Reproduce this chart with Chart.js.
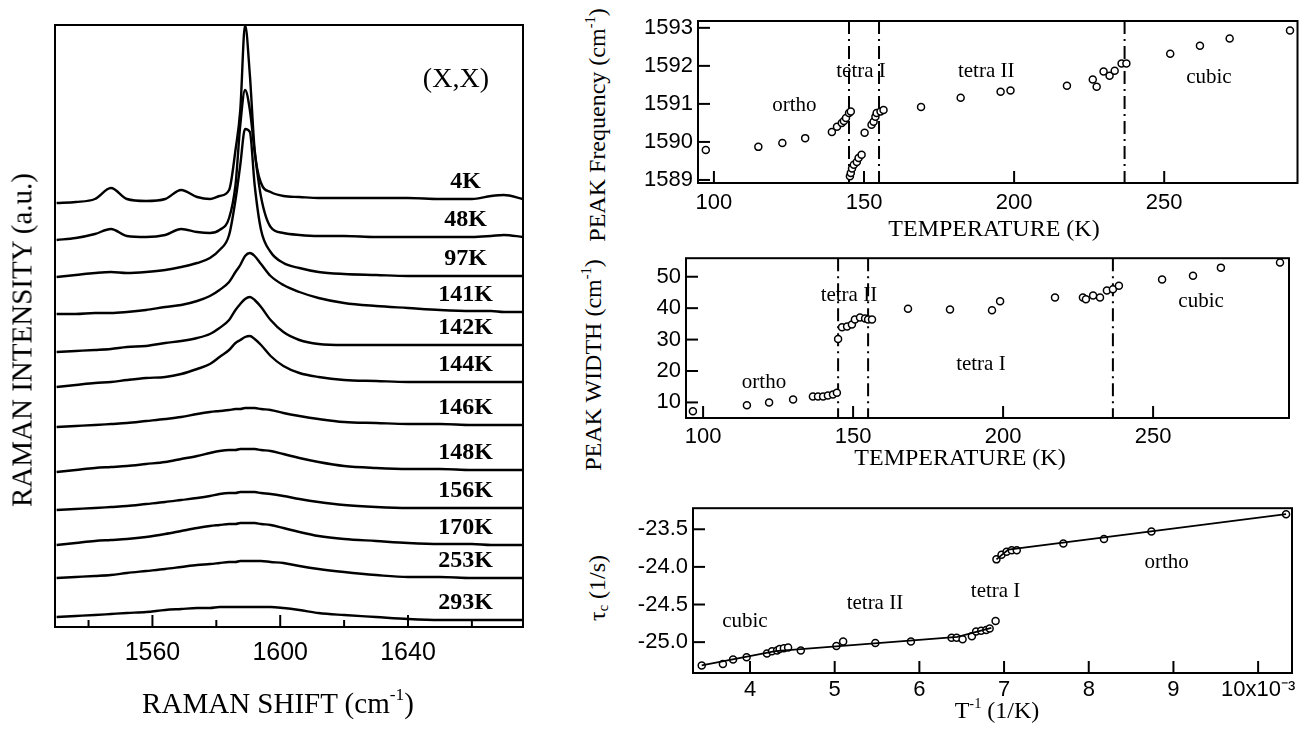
<!DOCTYPE html>
<html>
<head>
<meta charset="utf-8">
<script src="https://cdn.jsdelivr.net/npm/chart.js@4.4.1/dist/chart.umd.min.js"></script>
<style>
    body { margin: 0; background: #fff; }
    #page { position: relative; width: 1303px; height: 737px; overflow: hidden; background: #fff; color: #000; }
    .panel { position: absolute; }
    .t { position: absolute; white-space: nowrap; line-height: 1; transform: translate(-50%, -50%);
         font-family: "Liberation Serif", "Times New Roman", serif; }
    .rot { transform: translate(-50%, -50%) rotate(-90deg); }
    .t sup { font-size: 0.6em; vertical-align: 0.7em; line-height: 0; }
    .t sub { font-size: 0.6em; vertical-align: -0.2em; line-height: 0; }
</style>
</head>
<body>
<div id="page">
    <div class="panel" style="left:0;top:0;width:560px;height:737px;"><canvas id="ramanChart"></canvas></div>
    <div class="panel" style="left:620px;top:0;width:683px;height:215px;"><canvas id="freqChart"></canvas></div>
    <div class="panel" style="left:620px;top:240px;width:683px;height:215px;"><canvas id="widthChart"></canvas></div>
    <div class="panel" style="left:620px;top:490px;width:683px;height:225px;"><canvas id="tauChart"></canvas></div>

    <div class="t rot" style="left:22px;top:340px;font-size:29px;">RAMAN INTENSITY (a.u.)</div>
    <div class="t" style="left:278px;top:703px;font-size:29px;">RAMAN SHIFT (cm<sup>-1</sup>)</div>
    <div class="t rot" style="left:597px;top:125px;font-size:24px;">PEAK Frequency (cm<sup>-1</sup>)</div>
    <div class="t" style="left:994px;top:228px;font-size:24px;">TEMPERATURE (K)</div>
    <div class="t rot" style="left:593px;top:365px;font-size:24px;">PEAK WIDTH (cm<sup>-1</sup>)</div>
    <div class="t" style="left:960px;top:457px;font-size:24px;">TEMPERATURE (K)</div>
    <div class="t rot" style="left:597px;top:588px;font-size:24px;">τ<sub>c</sub> (1/s)</div>
    <div class="t" style="left:997px;top:710px;font-size:24px;">T<sup>-1</sup> (1/K)</div>
</div>

<script>
const FONT_SANS = '"Liberation Sans", Arial, sans-serif';
const FONT_SERIF = '"Liberation Serif", "Times New Roman", serif';

// Raman spectra, shifted up by temperature (a.u.)
const shift = [1530, 1536, 1542, 1547, 1552, 1558, 1564, 1569, 1574, 1578, 1581, 1584, 1586, 1587.5, 1589,
               1590.5, 1592, 1594, 1597, 1601, 1606, 1612, 1620, 1630, 1640, 1650, 1660, 1666, 1670, 1676];
const s4   = [42.4, 42.5, 42.8, 43.9, 42.8, 42.6, 42.8, 43.7, 43.0, 42.8, 43.1, 43.7, 47.7, 51.7, 60.2,
              55.2, 47.7, 44.4, 43.5, 43.1, 43.0, 42.9, 42.9, 42.9, 42.9, 42.8, 42.8, 43.1, 43.2, 42.8];
const s48  = [38.7, 38.9, 39.3, 39.8, 39.1, 39.0, 39.2, 39.8, 39.5, 39.4, 39.7, 40.9, 44.2, 50.2, 53.7,
              51.7, 47.5, 43.0, 40.0, 39.4, 39.2, 39.1, 39.1, 39.0, 39.0, 39.0, 39.0, 39.1, 39.2, 39.0];
const s97  = [35.0, 35.2, 35.4, 35.5, 35.4, 35.5, 35.7, 36.0, 36.4, 36.9, 37.7, 39.2, 42.7, 46.2, 49.8,
              49.5, 44.2, 39.7, 37.5, 36.4, 35.9, 35.5, 35.3, 35.2, 35.1, 35.1, 35.1, 35.1, 35.1, 35.1];
const s141 = [31.3, 31.3, 31.4, 31.4, 31.5, 31.7, 32.0, 32.2, 32.6, 33.1, 33.7, 34.5, 35.5, 36.2, 37.1,
              37.4, 37.1, 36.3, 35.1, 34.2, 33.5, 32.9, 32.4, 32.1, 31.9, 31.7, 31.6, 31.6, 31.5, 31.5];
const s142 = [27.5, 27.6, 27.7, 27.8, 28.0, 28.1, 28.4, 28.6, 28.9, 29.3, 29.9, 30.7, 31.7, 32.3, 32.8,
              33.0, 32.7, 32.0, 30.7, 29.5, 28.7, 28.3, 28.2, 28.2, 28.2, 28.2, 28.2, 28.2, 28.2, 28.2];
const s144 = [24.0, 24.2, 24.4, 24.5, 24.7, 24.9, 25.0, 25.3, 25.8, 26.3, 27.0, 27.7, 28.4, 28.7, 29.0,
              29.1, 28.8, 28.2, 27.1, 26.1, 25.4, 25.0, 24.7, 24.6, 24.5, 24.5, 24.5, 24.5, 24.5, 24.5];
const s146 = [20.0, 20.1, 20.2, 20.3, 20.4, 20.6, 20.8, 21.0, 21.3, 21.5, 21.6, 21.7, 21.8, 21.8, 21.9,
              21.9, 21.9, 21.8, 21.7, 21.4, 21.1, 20.8, 20.5, 20.4, 20.3, 20.3, 20.2, 20.2, 20.2, 20.2];
const s148 = [15.5, 15.7, 15.9, 16.0, 16.1, 16.3, 16.5, 16.8, 17.1, 17.4, 17.6, 17.7, 17.7, 17.8, 17.8,
              17.8, 17.8, 17.7, 17.6, 17.3, 16.9, 16.5, 16.1, 15.9, 15.8, 15.8, 15.7, 15.7, 15.7, 15.7];
const s156 = [11.7, 11.8, 11.9, 12.0, 12.1, 12.3, 12.5, 12.7, 12.9, 13.1, 13.3, 13.4, 13.4, 13.5, 13.5,
              13.5, 13.5, 13.4, 13.3, 13.1, 12.8, 12.5, 12.2, 12.0, 11.9, 11.9, 11.9, 11.9, 11.9, 11.9];
const s170 = [8.2, 8.4, 8.6, 8.7, 8.8, 9.0, 9.3, 9.6, 9.9, 10.1, 10.2, 10.3, 10.3, 10.4, 10.4,
              10.4, 10.4, 10.3, 10.2, 9.9, 9.5, 9.1, 8.8, 8.6, 8.4, 8.3, 8.3, 8.2, 8.2, 8.2];
const s253 = [4.9, 5.0, 5.1, 5.2, 5.4, 5.6, 5.8, 6.0, 6.2, 6.3, 6.4, 6.5, 6.5, 6.6, 6.6,
              6.6, 6.6, 6.6, 6.5, 6.4, 6.1, 5.8, 5.5, 5.2, 5.0, 5.0, 4.9, 4.9, 4.9, 4.9];
const s293 = [1.0, 1.1, 1.2, 1.3, 1.4, 1.5, 1.7, 1.8, 1.9, 1.9, 2.0, 2.0, 2.0, 2.0, 2.0,
              2.0, 2.0, 2.0, 2.0, 1.9, 1.7, 1.4, 1.2, 1.0, 0.8, 0.7, 0.7, 0.7, 0.7, 0.7];
const spectra = [s4, s48, s97, s141, s142, s144, s146, s148, s156, s170, s253, s293];
const tempLabels = ['4K', '48K', '97K', '141K', '142K', '144K', '146K', '148K', '156K', '170K', '253K', '293K'];
const shiftTicks = [1540, 1560, 1580, 1600, 1620, 1640, 1660];
const shiftLabels = [1560, 1600, 1640];

// Peak frequency vs temperature
const freqT = [97.3, 114.8, 122.8, 130.4, 139.3, 141.0, 142.6, 143.3, 144.0, 145.0, 145.6,
               145.3, 145.6, 146.0, 146.6, 147.6, 148.2, 149.2,
               150.2, 152.5, 153.2, 153.8, 154.2, 155.5, 156.5, 169.0, 182.2, 195.5, 198.8, 217.6,
               226.2, 227.5, 229.8, 231.8, 233.5, 235.8, 237.4, 252.0, 261.9, 271.8, 291.9];
const freqVal = [1589.79, 1589.87, 1589.97, 1590.10, 1590.26, 1590.40, 1590.50, 1590.55, 1590.63, 1590.76, 1590.80,
                 1589.10, 1589.18, 1589.30, 1589.40, 1589.47, 1589.58, 1589.66,
                 1590.24, 1590.45, 1590.53, 1590.66, 1590.76, 1590.80, 1590.84, 1590.92, 1591.16, 1591.32, 1591.35, 1591.48,
                 1591.64, 1591.45, 1591.85, 1591.74, 1591.87, 1592.06, 1592.06, 1592.32, 1592.53, 1592.72, 1592.93];
const freqTicks = [1589, 1590, 1591, 1592, 1593];
const freqBounds = [145, 155, 236.8];

// Peak width vs temperature
const widthT = [96.6, 114.6, 122.0, 130.0, 136.6, 138.3, 140.0, 141.6, 143.3, 144.6, 145.0, 146.3, 148.0,
                149.6, 150.6, 152.3, 154.0, 155.0, 156.3, 168.3, 182.3, 196.3, 199.0, 217.3, 226.6, 227.6,
                230.0, 232.3, 234.6, 236.6, 238.6, 253.0, 263.3, 272.6, 292.3];
const widthVal = [7.2, 9.1, 10.0, 10.9, 11.9, 11.9, 11.9, 12.2, 12.5, 13.1, 30.2, 33.9, 34.2,
                  34.8, 36.4, 37.0, 36.7, 36.4, 36.4, 39.8, 39.6, 39.3, 42.2, 43.4, 43.4, 42.8,
                  44.0, 43.4, 45.6, 46.0, 47.1, 49.1, 50.3, 52.9, 54.5];
const widthTicks = [10, 20, 30, 40, 50];
const widthBounds = [145, 155, 236.6];

// tau_c vs inverse temperature (x in 1e-3 1/K)
const invT = [3.43, 3.68, 3.80, 3.96, 4.20, 4.26, 4.32, 4.35, 4.40, 4.45, 4.60, 5.02, 5.10, 5.48, 5.90,
              6.38, 6.44, 6.51, 6.62, 6.67, 6.73, 6.79, 6.83, 6.90,
              6.91, 6.97, 7.03, 7.09, 7.15, 7.70, 8.18, 8.74, 10.33];
const tauVal = [-25.31, -25.29, -25.23, -25.20, -25.15, -25.12, -25.11, -25.09, -25.08, -25.07, -25.11, -25.05, -24.99, -25.01, -24.99,
                -24.94, -24.94, -24.96, -24.92, -24.86, -24.85, -24.84, -24.82, -24.72,
                -23.90, -23.84, -23.80, -23.78, -23.78, -23.69, -23.63, -23.53, -23.30];
const lowFitX = [3.43, 4.30, 6.45, 6.85];
const lowFitY = [-25.31, -25.12, -24.93, -24.81];
const upFitX = [6.91, 7.05, 10.33];
const upFitY = [-23.90, -23.77, -23.30];
const invTTicks = [4, 5, 6, 7, 8, 9, 10];
const tauTicks = [-25.0, -24.5, -24.0, -23.5];

const tempTicks = [100, 150, 200, 250];

// box, inward ticks, phase boundaries and text notes
function frame(cfg) {
    return {
        id: 'frame',
        beforeDatasetsDraw(chart) {
            const { ctx, chartArea: a, scales: { x } } = chart;
            if (!cfg.bounds) return;
            ctx.save();
            ctx.strokeStyle = '#000';
            ctx.lineWidth = 2;
            ctx.setLineDash([13, 5, 2, 5]);
            cfg.bounds.forEach(v => {
                const px = x.getPixelForValue(v);
                ctx.beginPath();
                ctx.moveTo(px, a.top);
                ctx.lineTo(px, a.bottom);
                ctx.stroke();
            });
            ctx.restore();
        },
        afterDatasetsDraw(chart) {
            const { ctx, chartArea: a, scales: { x, y } } = chart;
            ctx.save();
            ctx.strokeStyle = '#000';
            ctx.fillStyle = '#000';
            ctx.lineWidth = 2;
            ctx.strokeRect(a.left, a.top, a.right - a.left, a.bottom - a.top);
            x.ticks.forEach(t => {
                const px = x.getPixelForValue(t.value);
                const len = t.label === '' ? cfg.minorLen : cfg.tickLen;
                ctx.beginPath();
                ctx.moveTo(px, a.bottom);
                ctx.lineTo(px, a.bottom - len);
                ctx.stroke();
            });
            if (y.options.display) {
                y.ticks.forEach(t => {
                    const py = y.getPixelForValue(t.value);
                    ctx.beginPath();
                    ctx.moveTo(a.left, py);
                    ctx.lineTo(a.left + cfg.tickLen, py);
                    ctx.stroke();
                });
            }
            ctx.textAlign = 'center';
            ctx.textBaseline = 'middle';
            (cfg.notes || []).forEach(n => {
                ctx.font = n.font;
                ctx.fillText(n.text, x.getPixelForValue(n.x), y.getPixelForValue(n.y));
            });
            ctx.restore();
        }
    };
}

const noteFont = '21px ' + FONT_SERIF;
const noGrid = { display: false, drawTicks: false };

// left panel: stacked spectra
const ramanNotes = spectra.map((s, i) => ({
    text: tempLabels[i], x: 1658, y: s[s.length - 1] + 1.7, font: 'bold 24px ' + FONT_SERIF
}));
ramanNotes.push({ text: '(X,X)', x: 1655, y: 54.7, font: '28px ' + FONT_SERIF });

new Chart(document.getElementById('ramanChart'), {
    type: 'line',
    data: {
        datasets: spectra.map((s, i) => ({
            label: tempLabels[i],
            data: shift.map((v, j) => ({ x: v, y: s[j] })),
            borderColor: '#000',
            borderWidth: 2.4,
            pointRadius: 0,
            cubicInterpolationMode: 'monotone',
            fill: false
        }))
    },
    options: {
        responsive: true,
        maintainAspectRatio: false,
        animation: false,
        layout: { padding: { left: 55, right: 37, top: 25, bottom: 0 } },
        plugins: { legend: { display: false }, tooltip: { enabled: false } },
        scales: {
            x: {
                type: 'linear', min: 1529.5, max: 1676,
                grid: noGrid, border: { display: false },
                afterBuildTicks: s => { s.ticks = shiftTicks.map(v => ({ value: v })); },
                afterFit: s => { s.height = 110; },
                ticks: {
                    autoSkip: false, maxRotation: 0, padding: 11, color: '#000',
                    font: { family: FONT_SANS, size: 25 },
                    callback: v => shiftLabels.includes(v) ? String(v) : ''
                }
            },
            y: { display: false, min: 0, max: 60.2 }
        }
    },
    plugins: [frame({ tickLen: 12, minorLen: 7, notes: ramanNotes })]
});

// right panels share one layout recipe
function scatterChart(id, cfg) {
    return new Chart(document.getElementById(id), {
        type: 'scatter',
        data: { datasets: cfg.datasets },
        options: {
            responsive: true,
            maintainAspectRatio: false,
            animation: false,
            layout: { padding: { left: 0, right: cfg.right, top: cfg.top, bottom: 0 } },
            plugins: { legend: { display: false }, tooltip: { enabled: false } },
            scales: {
                x: {
                    type: 'linear', min: cfg.xMin, max: cfg.xMax,
                    grid: noGrid, border: { display: false },
                    afterBuildTicks: s => { s.ticks = cfg.xTicks.map(v => ({ value: v })); },
                    afterFit: s => { s.height = cfg.xh; },
                    ticks: {
                        autoSkip: false, maxRotation: 0, padding: cfg.xPad, color: '#000',
                        font: { family: FONT_SANS, size: 22 },
                        callback: cfg.xLabel || (v => String(v))
                    }
                },
                y: {
                    type: 'linear', min: cfg.yMin, max: cfg.yMax,
                    grid: noGrid, border: { display: false },
                    afterBuildTicks: s => { s.ticks = cfg.yTicks.map(v => ({ value: v })); },
                    afterFit: s => { s.width = cfg.yw; },
                    ticks: {
                        autoSkip: false, padding: 5, color: '#000',
                        font: { family: FONT_SANS, size: 22 },
                        callback: cfg.yLabel || (v => String(v))
                    }
                }
            }
        },
        plugins: [frame({ tickLen: 12, minorLen: 12, bounds: cfg.bounds, notes: cfg.notes })]
    });
}

const circle = {
    pointRadius: 3.5, pointBorderWidth: 1.5,
    pointBorderColor: '#000', pointBackgroundColor: '#fff', showLine: false
};

scatterChart('freqChart', {
    datasets: [{ data: freqT.map((t, i) => ({ x: t, y: freqVal[i] })), ...circle }],
    xMin: 94.7, xMax: 294.4, yMin: 1588.92, yMax: 1593.18,
    xTicks: tempTicks, yTicks: freqTicks,
    top: 21, right: 2, yw: 78, xh: 32, xPad: 7,
    bounds: freqBounds,
    notes: [
        { text: 'ortho', x: 126.8, y: 1590.97, font: noteFont },
        { text: 'tetra I', x: 149, y: 1591.84, font: noteFont },
        { text: 'tetra II', x: 190.7, y: 1591.84, font: noteFont },
        { text: 'cubic', x: 264.9, y: 1591.7, font: noteFont }
    ]
});

scatterChart('widthChart', {
    datasets: [{ data: widthT.map((t, i) => ({ x: t, y: widthVal[i] })), ...circle }],
    xMin: 94.3, xMax: 295.3, yMin: 5.04, yMax: 55.9,
    xTicks: tempTicks, yTicks: widthTicks,
    top: 16, right: 14, yw: 66, xh: 37, xPad: 6,
    bounds: widthBounds,
    notes: [
        { text: 'tetra II', x: 148.6, y: 44.1, font: noteFont },
        { text: 'ortho', x: 120.3, y: 16.2, font: noteFont },
        { text: 'tetra I', x: 192.6, y: 22, font: noteFont },
        { text: 'cubic', x: 266, y: 42.2, font: noteFont }
    ]
});

scatterChart('tauChart', {
    datasets: [
        { data: lowFitX.map((v, i) => ({ x: v, y: lowFitY[i] })), showLine: true, borderColor: '#000', borderWidth: 1.8, pointRadius: 0 },
        { data: upFitX.map((v, i) => ({ x: v, y: upFitY[i] })), showLine: true, borderColor: '#000', borderWidth: 1.8, pointRadius: 0 },
        { data: invT.map((v, i) => ({ x: v, y: tauVal[i] })), ...circle }
    ],
    xMin: 3.327, xMax: 10.4, yMin: -25.41, yMax: -23.22,
    xTicks: invTTicks, yTicks: tauTicks,
    top: 18, right: 11, yw: 73, xh: 42, xPad: 4,
    xLabel: v => v === 10 ? '10x10⁻³' : String(v),
    yLabel: v => v.toFixed(1),
    notes: [
        { text: 'cubic', x: 3.94, y: -24.73, font: noteFont },
        { text: 'tetra II', x: 5.475, y: -24.48, font: noteFont },
        { text: 'tetra I', x: 6.9, y: -24.33, font: noteFont },
        { text: 'ortho', x: 8.92, y: -23.94, font: noteFont }
    ]
});
</script>
</body>
</html>
